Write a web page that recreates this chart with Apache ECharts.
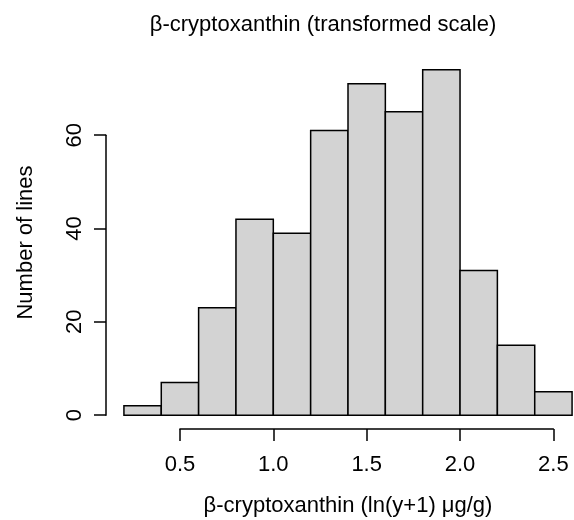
<!DOCTYPE html>
<html>
<head>
<meta charset="utf-8">
<script src="https://cdn.jsdelivr.net/npm/echarts@6/dist/echarts.min.js"></script>
<style>
  html, body { margin: 0; padding: 0; background: #fff; }
  #chart { width: 574px; height: 520px; }
</style>
</head>
<body>
<div id="chart"></div>
<script>
// Histogram of β-cryptoxanthin on the ln(y+1) scale, 0.2-wide bins
const binStarts = [0.2, 0.4, 0.6, 0.8, 1.0, 1.2, 1.4, 1.6, 1.8, 2.0, 2.2, 2.4];
const binWidth = 0.2;
const counts = [2, 7, 23, 42, 39, 61, 71, 65, 74, 31, 15, 5];
const xTicks = [0.5, 1.0, 1.5, 2.0, 2.5];
const yTicks = [0, 20, 40, 60];

const titleText = 'β-cryptoxanthin (transformed scale)';
const xLabel = 'β-cryptoxanthin (ln(y+1) μg/g)';
const yLabel = 'Number of lines';

// Plot region: data range padded by 4% on each side, as in base graphics
const xLo = binStarts[0], xHi = binStarts[binStarts.length - 1] + binWidth;
const yLo = 0, yHi = Math.max(...counts);
const xPad = (xHi - xLo) * 0.04, yPad = (yHi - yLo) * 0.04;
const xDomain = [xLo - xPad, xHi + xPad];
const yDomain = [yLo - yPad, yHi + yPad];
const plot = { left: 106, top: 56, width: 484, height: 373 };

function px(v) { return plot.left + (v - xDomain[0]) / (xDomain[1] - xDomain[0]) * plot.width; }
function py(v) { return plot.top + (yDomain[1] - v) / (yDomain[1] - yDomain[0]) * plot.height; }

const FONT = 'Liberation Sans, Arial, Helvetica, sans-serif';
const FS = 22;

const hidden = { show: false };

const chart = echarts.init(document.getElementById('chart'), null, { renderer: 'canvas' });

const bars = binStarts.map((s, i) => [s, s + binWidth, counts[i]]);

chart.setOption({
  animation: false,
  backgroundColor: '#ffffff',
  textStyle: { fontFamily: FONT, color: '#000' },
  title: {
    text: titleText,
    left: 318,
    top: 9,
    textAlign: 'center',
    textStyle: { fontFamily: FONT, fontSize: FS, fontWeight: 'normal', color: '#000' }
  },
  grid: [
    // main plotting region (extends past the right edge of the canvas)
    { left: plot.left, top: plot.top, width: plot.width, height: plot.height,
      containLabel: false, outerBoundsMode: 'none' },
    // x axis, drawn between the first and last tick
    { left: px(xTicks[0]), top: plot.top, width: px(xTicks[xTicks.length - 1]) - px(xTicks[0]),
      height: plot.height, containLabel: false, outerBoundsMode: 'none' },
    // y axis, drawn between the first and last tick
    { left: plot.left, top: py(yTicks[yTicks.length - 1]), width: plot.width,
      height: py(yTicks[0]) - py(yTicks[yTicks.length - 1]), containLabel: false, outerBoundsMode: 'none' }
  ],
  xAxis: [
    {
      gridIndex: 0, type: 'value', min: xDomain[0], max: xDomain[1],
      axisLine: hidden, axisTick: hidden, axisLabel: hidden, splitLine: hidden,
      name: xLabel, nameLocation: 'middle', nameGap: 66,
      nameTextStyle: { fontFamily: FONT, fontSize: FS, color: '#000' }
    },
    {
      gridIndex: 1, type: 'value', min: xTicks[0], max: xTicks[xTicks.length - 1], interval: 0.5,
      axisLine: { show: true, onZero: false, lineStyle: { color: '#000', width: 1.5 } },
      axisTick: { show: true, inside: false, length: 12, lineStyle: { color: '#000', width: 1.5 } },
      axisLabel: { show: true, margin: 25, fontFamily: FONT, fontSize: FS, color: '#000',
                   formatter: v => v.toFixed(1) },
      splitLine: hidden
    },
    { gridIndex: 2, type: 'value', show: false }
  ],
  yAxis: [
    {
      gridIndex: 0, type: 'value', min: yDomain[0], max: yDomain[1],
      axisLine: hidden, axisTick: hidden, axisLabel: hidden, splitLine: hidden,
      name: yLabel, nameLocation: 'middle', nameGap: 69,
      nameTextStyle: { fontFamily: FONT, fontSize: FS, color: '#000' }
    },
    { gridIndex: 1, type: 'value', show: false },
    {
      gridIndex: 2, type: 'value', min: yTicks[0], max: yTicks[yTicks.length - 1], interval: 20,
      axisLine: { show: true, onZero: false, lineStyle: { color: '#000', width: 1.5 } },
      axisTick: { show: true, inside: false, length: 12, lineStyle: { color: '#000', width: 1.5 } },
      axisLabel: { show: true, margin: 20, rotate: 90, fontFamily: FONT, fontSize: FS, color: '#000' },
      splitLine: hidden
    }
  ],
  series: [
    {
      type: 'custom',
      xAxisIndex: 0,
      yAxisIndex: 0,
      data: bars,
      clip: false,
      renderItem: function (params, api) {
        const p0 = api.coord([api.value(0), 0]);
        const p1 = api.coord([api.value(1), api.value(2)]);
        return {
          type: 'rect',
          shape: { x: p0[0], y: p1[1], width: p1[0] - p0[0], height: p0[1] - p1[1] },
          style: { fill: '#d3d3d3', stroke: '#000', lineWidth: 1.5 }
        };
      }
    }
  ]
});
</script>
</body>
</html>
